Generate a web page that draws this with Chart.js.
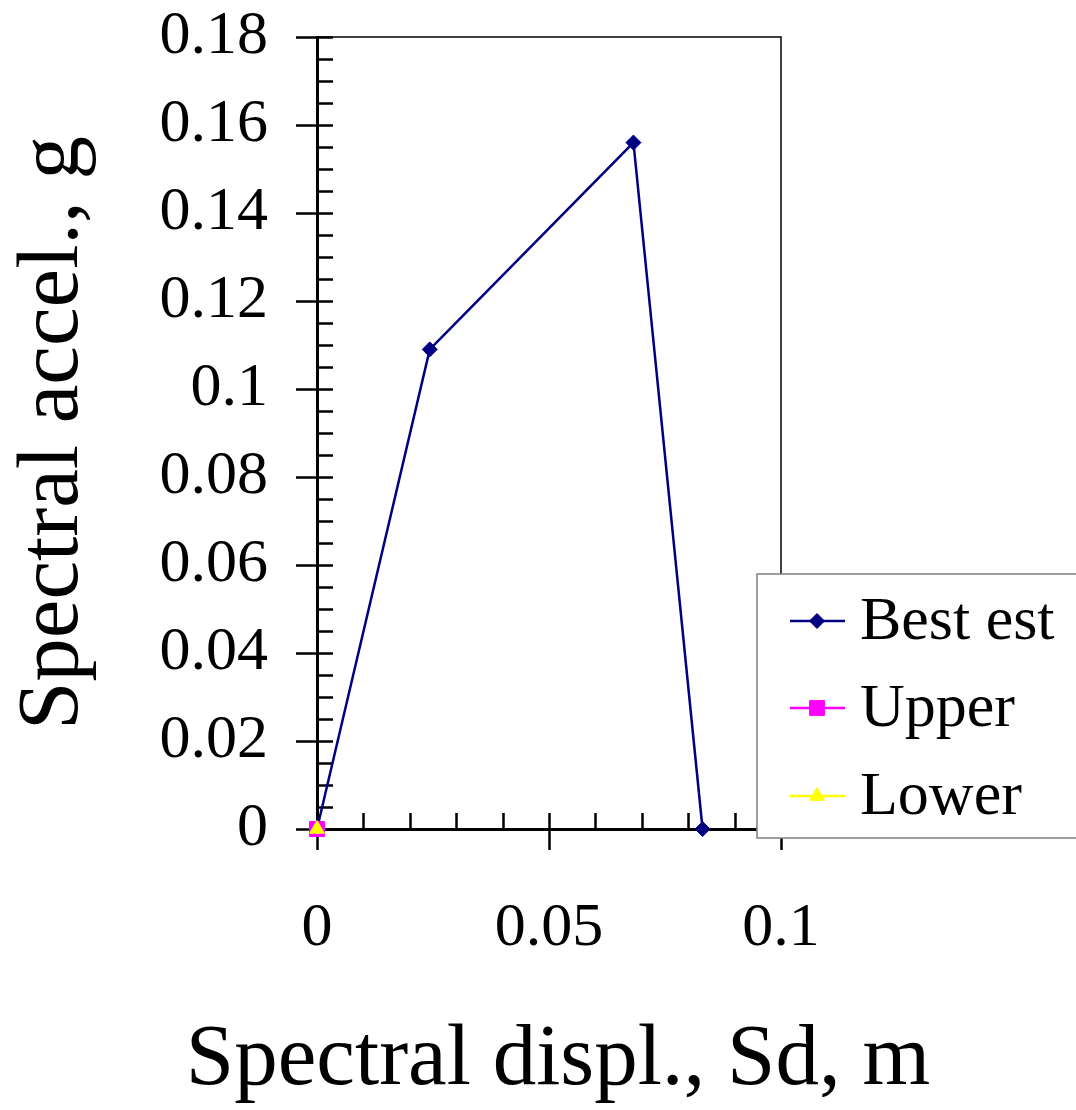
<!DOCTYPE html>
<html>
<head>
<meta charset="utf-8">
<script src="https://cdn.jsdelivr.net/npm/chart.js@4/dist/chart.umd.min.js"></script>
<style>
  html, body { margin: 0; padding: 0; background: #fff; }
  canvas { display: block; }
</style>
</head>
<body>
<canvas id="sd-sa" width="1076" height="1110"></canvas>
<script>
// Capacity / demand curve values
var seriesNames = ["Best est", "Upper", "Lower"];
var bestX = [0, 0.0243, 0.0682, 0.0831];
var bestY = [0, 0.109, 0.156, 0];
var upperX = [0];
var upperY = [0];
var lowerX = [0];
var lowerY = [0];

var xMin = 0, xMax = 0.1, xMajor = 0.05, xMinor = 0.01;
var yMin = 0, yMax = 0.18, yMajor = 0.02, yMinor = 0.005;
var xTitle = 'Spectral displ., Sd, m';
var yTitle = 'Spectral accel., g';

var FONT = "'Liberation Serif', 'Times New Roman', serif";

function toPoints(xs, ys) {
    return xs.map(function (x, i) { return { x: x, y: ys[i] }; });
}

function shortNum(v) {
    return String(parseFloat(Number(v).toFixed(4)));
}

// white page
var bgPlugin = {
    id: 'bg',
    beforeDraw: function (chart) {
        var c = chart.ctx;
        c.save();
        c.fillStyle = '#fff';
        c.fillRect(0, 0, chart.width, chart.height);
        c.restore();
    }
};

// frame + major (crossing) and minor (inside) tick marks
var ticksPlugin = {
    id: 'tickMarks',
    beforeDatasetsDraw: function (chart) {
        var c = chart.ctx, a = chart.chartArea;
        var xs = chart.scales.x, ys = chart.scales.y;
        c.save();
        c.strokeStyle = '#000';
        c.lineWidth = 1.5;
        c.beginPath();
        c.moveTo(a.left, a.top); c.lineTo(a.right, a.top); c.lineTo(a.right, a.bottom);
        c.stroke();

        c.lineWidth = 2.5;
        c.beginPath();
        var n, i, v, p, isMajor;
        n = Math.round((yMax - yMin) / yMinor);
        for (i = 0; i <= n; i++) {
            v = yMin + i * yMinor;
            p = Math.round(ys.getPixelForValue(v)) + 0.5;
            isMajor = i % Math.round(yMajor / yMinor) === 0;
            c.moveTo(a.left - (isMajor ? 21 : 0), p);
            c.lineTo(a.left + 16, p);
        }
        n = Math.round((xMax - xMin) / xMinor);
        for (i = 0; i <= n; i++) {
            v = xMin + i * xMinor;
            p = Math.round(xs.getPixelForValue(v)) + 0.5;
            isMajor = i % Math.round(xMajor / xMinor) === 0;
            c.moveTo(p, a.bottom - 16);
            c.lineTo(p, a.bottom + (isMajor ? 21 : 0));
        }
        c.stroke();

        // x title is wider than the plot, so it is drawn here (the scale would squeeze it)
        c.fillStyle = '#000';
        c.font = '87px ' + FONT;
        c.textAlign = 'center';
        c.textBaseline = 'alphabetic';
        c.fillText(xTitle, (a.left + a.right) / 2 + 9, 1084);
        c.restore();
    }
};

// boxed legend sitting over the lower right corner of the plot
var legendBox = {
    id: 'legendBox',
    afterDraw: function (chart) {
        var c = chart.ctx;
        var left = 757, top = 574, bottom = 838;
        c.save();
        c.fillStyle = '#fff';
        c.fillRect(left, top, chart.width - left + 10, bottom - top);
        c.strokeStyle = '#808080';
        c.lineWidth = 1.5;
        c.strokeRect(left, top, chart.width - left + 10, bottom - top);

        var rowY = [top + 47, top + 134, top + 222];
        chart.data.datasets.forEach(function (ds, i) {
            var y = rowY[i];
            c.strokeStyle = ds.borderColor;
            c.lineWidth = 2.5;
            c.beginPath();
            c.moveTo(790, y); c.lineTo(845, y);
            c.stroke();
            c.fillStyle = ds.pointBackgroundColor;
            c.strokeStyle = ds.pointBorderColor;
            c.lineWidth = 1;
            Chart.helpers.drawPoint(c, {
                pointStyle: ds.pointStyle,
                radius: ds.pointRadius,
                rotation: 0,
                borderWidth: 1
            }, 817, y);
            c.fillStyle = '#000';
            c.font = '62px ' + FONT;
            c.textBaseline = 'middle';
            c.textAlign = 'left';
            c.fillText(ds.label, 860, y + 2);
        });
        c.restore();
    }
};

var ctx = document.getElementById('sd-sa').getContext('2d');
new Chart(ctx, {
    type: 'scatter',
    data: {
        datasets: [{
            label: seriesNames[0],
            data: toPoints(bestX, bestY),
            showLine: true,
            borderColor: '#000080',
            backgroundColor: '#000080',
            pointBackgroundColor: '#000080',
            pointBorderColor: '#000080',
            borderWidth: 2.5,
            pointStyle: 'rectRot',
            pointRadius: 7.5,
            pointBorderWidth: 1,
            clip: false,
            order: 3
        }, {
            label: seriesNames[1],
            data: toPoints(upperX, upperY),
            showLine: true,
            borderColor: '#ff00ff',
            backgroundColor: '#ff00ff',
            pointBackgroundColor: '#ff00ff',
            pointBorderColor: '#ff00ff',
            borderWidth: 2.5,
            pointStyle: 'rect',
            pointRadius: 10.5,
            pointBorderWidth: 1,
            clip: false,
            order: 2
        }, {
            label: seriesNames[2],
            data: toPoints(lowerX, lowerY),
            showLine: true,
            borderColor: '#ffff00',
            backgroundColor: '#ffff00',
            pointBackgroundColor: '#ffff00',
            pointBorderColor: '#ffff00',
            borderWidth: 2.5,
            pointStyle: 'triangle',
            pointRadius: 8.5,
            pointBorderWidth: 1,
            clip: false,
            order: 1
        }]
    },
    options: {
        responsive: false,
        animation: false,
        devicePixelRatio: 1,
        layout: { padding: { top: 37, right: 295, left: 0, bottom: 0 } },
        plugins: {
            legend: { display: false },
            tooltip: { enabled: false }
        },
        scales: {
            x: {
                type: 'linear',
                min: xMin,
                max: xMax,
                afterFit: function (s) {
                    s.height = 281;
                    s.paddingLeft = 0; s.paddingRight = 0;
                },
                border: { display: true, color: '#000', width: 3 },
                grid: { drawOnChartArea: false, drawTicks: false },
                ticks: {
                    stepSize: xMajor,
                    padding: 63,
                    color: '#000',
                    font: { family: FONT, size: 62 },
                    maxRotation: 0,
                    callback: shortNum
                }
            },
            y: {
                type: 'linear',
                min: yMin,
                max: yMax,
                afterFit: function (s) {
                    s.width = 317;
                    s.paddingTop = 0; s.paddingBottom = 0;
                },
                border: { display: true, color: '#000', width: 3 },
                grid: { drawOnChartArea: false, drawTicks: false },
                ticks: {
                    stepSize: yMajor,
                    padding: 49,
                    color: '#000',
                    font: { family: FONT, size: 62 },
                    callback: shortNum
                },
                title: {
                    display: true,
                    text: yTitle,
                    color: '#000',
                    font: { family: FONT, size: 87 },
                    padding: { top: 2, bottom: 0 }
                }
            }
        }
    },
    plugins: [bgPlugin, ticksPlugin, legendBox]
});
</script>
</body>
</html>
